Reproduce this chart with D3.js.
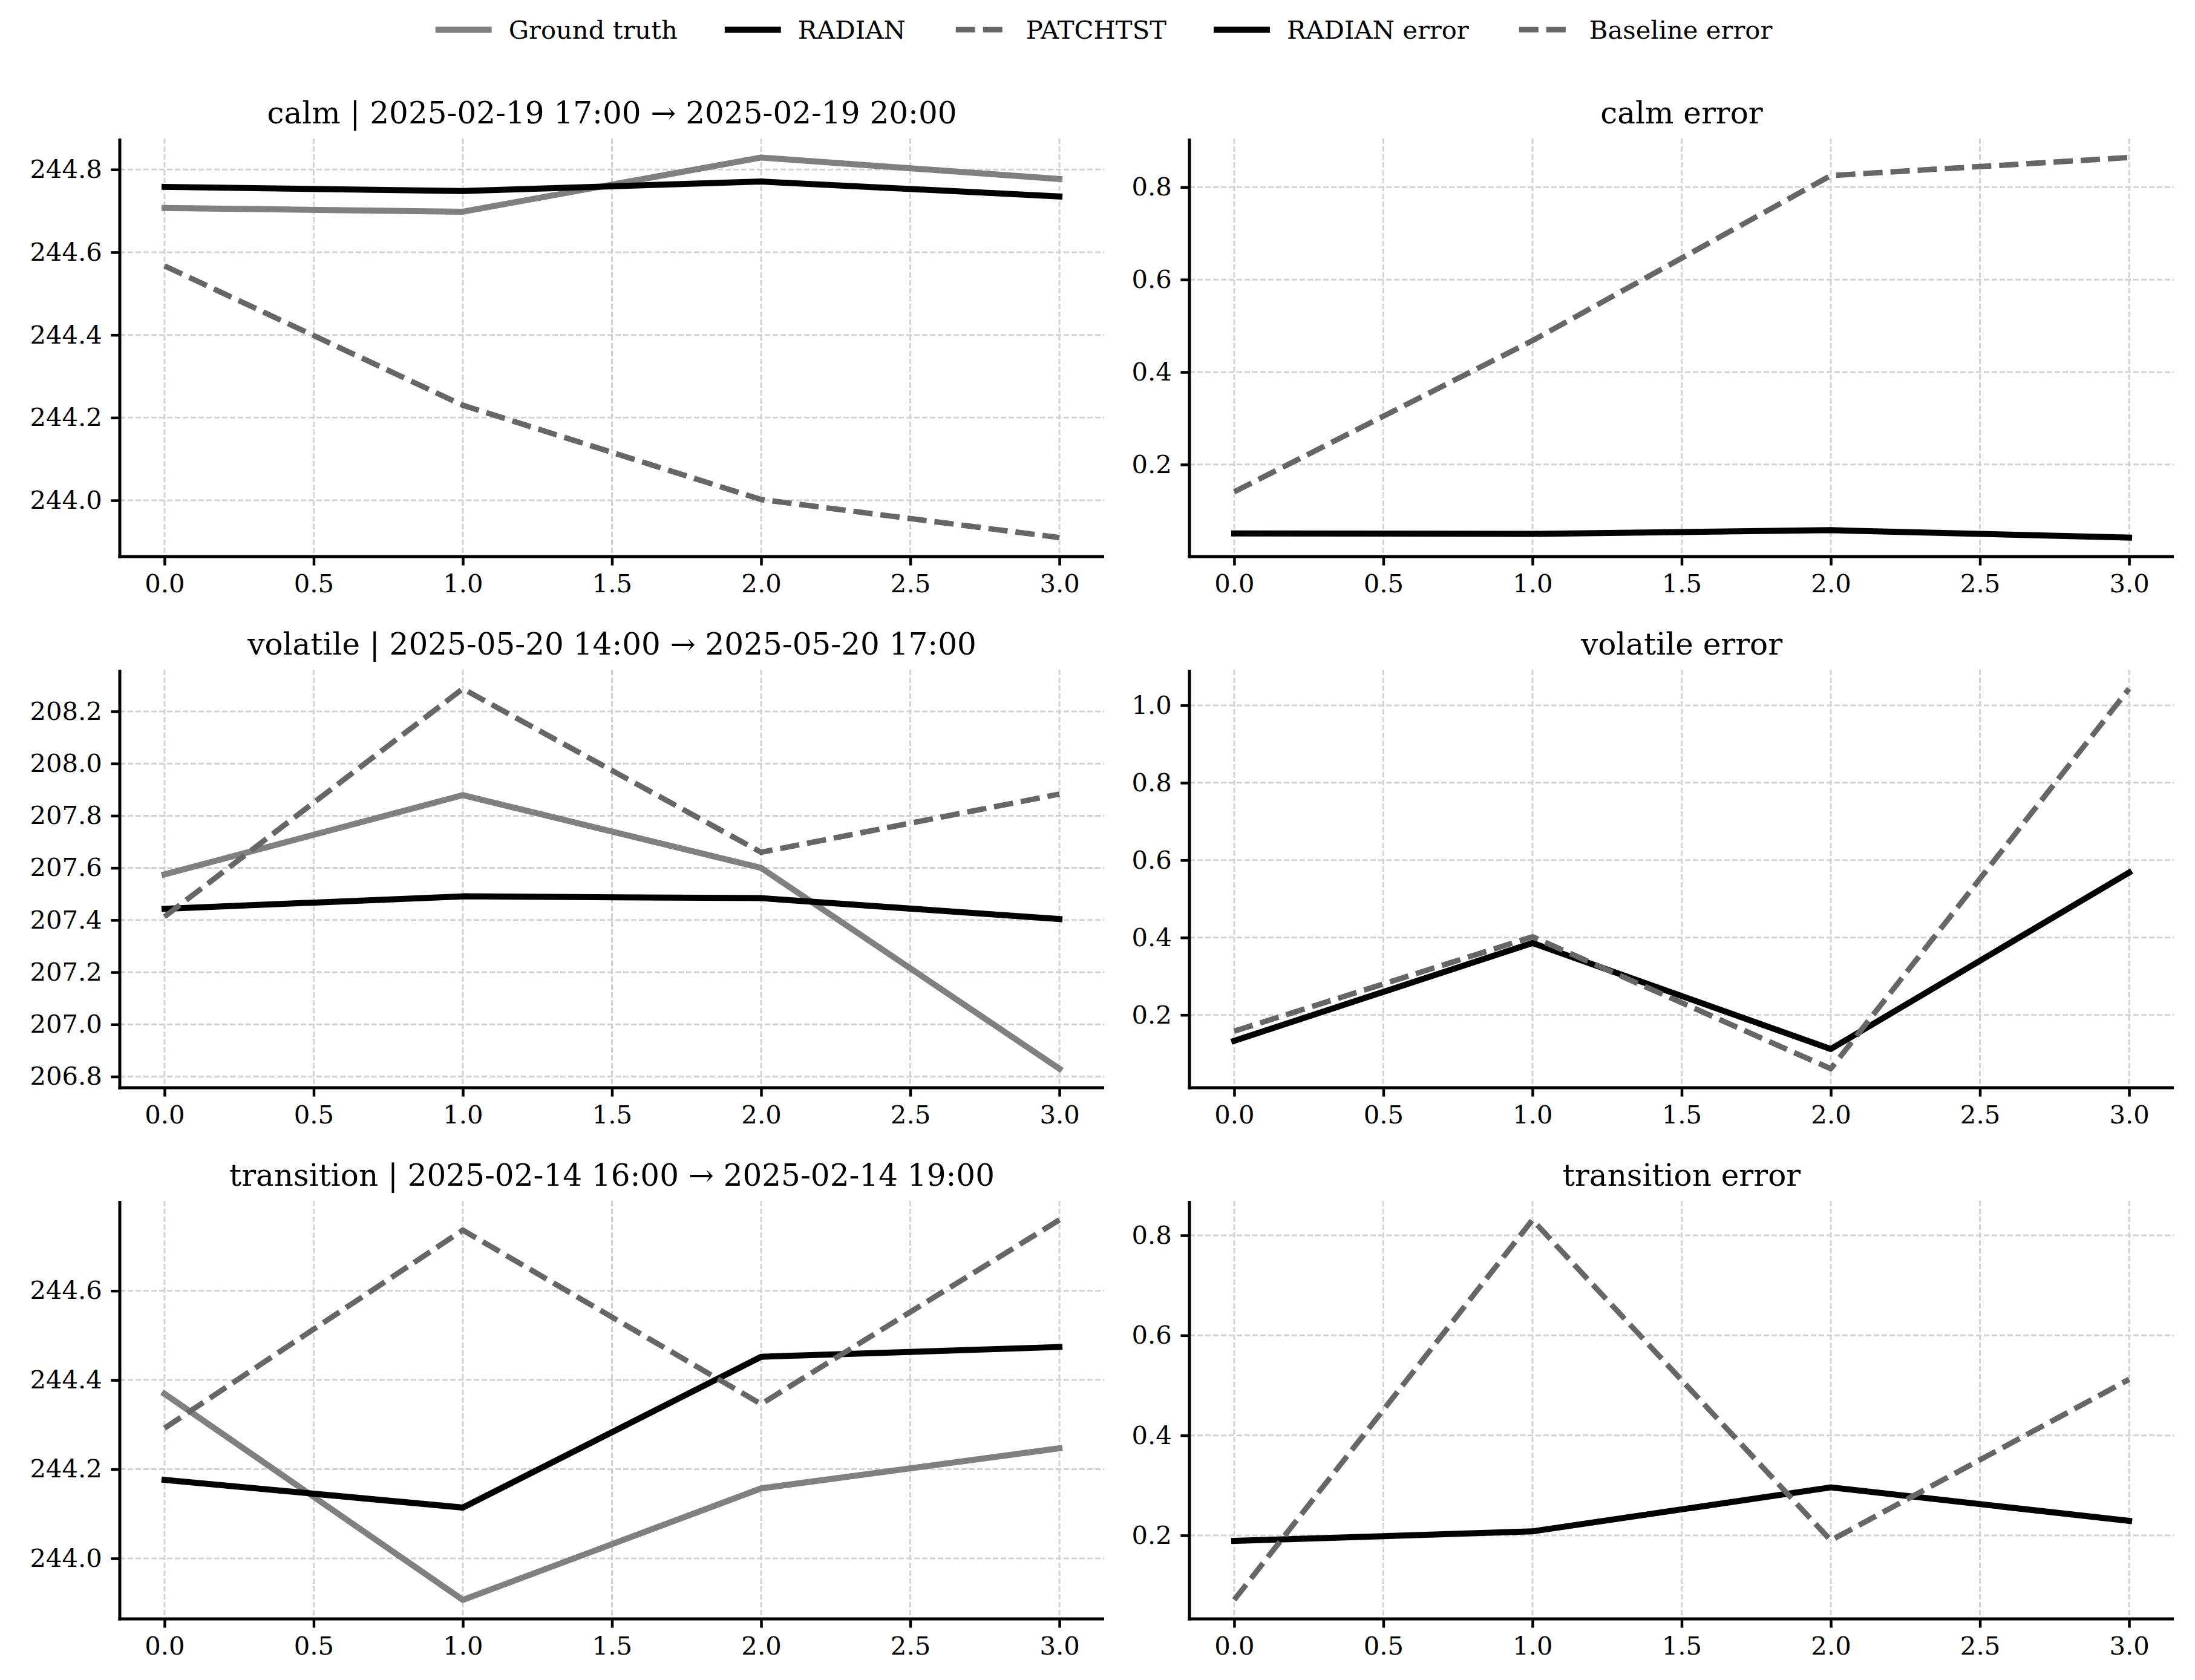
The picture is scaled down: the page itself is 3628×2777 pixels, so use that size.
<!DOCTYPE html>
<html><head><meta charset="utf-8">
<script src="https://cdn.jsdelivr.net/npm/d3@7"></script>
<style>body{margin:0;background:#fff} svg{display:block} text{font-family:"DejaVu Serif",serif;fill:#000}</style>
</head><body><svg id="c" width="3628" height="2777"></svg>
<script>
// ---------- data ----------
const steps = [0, 1, 2, 3];
const xTicks = [0, 0.5, 1, 1.5, 2, 2.5, 3];
const regimes = ["calm", "volatile", "transition"];
const windows = [
  "2025-02-19 17:00 \u2192 2025-02-19 20:00",
  "2025-05-20 14:00 \u2192 2025-05-20 17:00",
  "2025-02-14 16:00 \u2192 2025-02-14 19:00"
];
const legendLabels = ["Ground truth", "RADIAN", "PATCHTST", "RADIAN error", "Baseline error"];

const calmTruth  = [244.707, 244.698, 244.829, 244.777];
const calmRadian = [244.758, 244.748, 244.771, 244.735];
const calmPatch  = [244.567, 244.230, 244.002, 243.910];
const calmRadianErr   = [0.051, 0.050, 0.058, 0.042];
const calmBaselineErr = [0.141, 0.468, 0.825, 0.864];

const volTruth  = [207.575, 207.879, 207.600, 206.830];
const volRadian = [207.443, 207.491, 207.484, 207.404];
const volPatch  = [207.413, 208.287, 207.660, 207.883];
const volRadianErr   = [0.133, 0.386, 0.112, 0.568];
const volBaselineErr = [0.158, 0.402, 0.061, 1.043];

const trTruth  = [244.369, 243.907, 244.157, 244.247];
const trRadian = [244.176, 244.114, 244.452, 244.474];
const trPatch  = [244.292, 244.736, 244.346, 244.759];
const trRadianErr   = [0.189, 0.208, 0.296, 0.229];
const trBaselineErr = [0.071, 0.831, 0.190, 0.512];

const calmTicks = [244.0, 244.2, 244.4, 244.6, 244.8];
const calmErrTicks = [0.2, 0.4, 0.6, 0.8];
const volTicks = [206.8, 207.0, 207.2, 207.4, 207.6, 207.8, 208.0, 208.2];
const volErrTicks = [0.2, 0.4, 0.6, 0.8, 1.0];
const trTicks = [244.0, 244.2, 244.4, 244.6];
const trErrTicks = [0.2, 0.4, 0.6, 0.8];

// ---------- styles ----------
const S = {
  truth:  {color: "#808080", width: 10, dash: null},
  radian: {color: "#000000", width: 10, dash: null},
  patch:  {color: "#666666", width: 9, dash: "32,13"},
  rerr:   {color: "#000000", width: 10, dash: null},
  berr:   {color: "#666666", width: 9, dash: "32,13"}
};

const panels = [
  {row:0,col:0,title:`${regimes[0]} | ${windows[0]}`, ticks:calmTicks, series:[[calmTruth,S.truth],[calmRadian,S.radian],[calmPatch,S.patch]]},
  {row:0,col:1,title:`${regimes[0]} error`, ticks:calmErrTicks, series:[[calmRadianErr,S.rerr],[calmBaselineErr,S.berr]]},
  {row:1,col:0,title:`${regimes[1]} | ${windows[1]}`, ticks:volTicks, series:[[volTruth,S.truth],[volRadian,S.radian],[volPatch,S.patch]]},
  {row:1,col:1,title:`${regimes[1]} error`, ticks:volErrTicks, series:[[volRadianErr,S.rerr],[volBaselineErr,S.berr]]},
  {row:2,col:0,title:`${regimes[2]} | ${windows[2]}`, ticks:trTicks, series:[[trTruth,S.truth],[trRadian,S.radian],[trPatch,S.patch]]},
  {row:2,col:1,title:`${regimes[2]} error`, ticks:trErrTicks, series:[[trRadianErr,S.rerr],[trBaselineErr,S.berr]]}
];

// ---------- layout ----------
const svg = d3.select("#c");
const colLeft = [198, 1966], axW = 1627;
const rowTop = [229, 1107, 1985], axH = 691;
const tickFS = 41.7, titleFS = 50;

panels.forEach(p => {
  const x0 = colLeft[p.col], y0 = rowTop[p.row];
  const g = svg.append("g").attr("transform", `translate(${x0},${y0})`);
  const x = d3.scaleLinear().domain([-0.15, 3.15]).range([0, axW]);
  const all = p.series.flatMap(s => s[0]);
  const mn = d3.min(all), mx = d3.max(all), pad = (mx - mn) * 0.05;
  const y = d3.scaleLinear().domain([mn - pad, mx + pad]).range([axH, 0]);

  // grid
  const grid = g.append("g");
  xTicks.forEach(t => grid.append("line").attr("x1", x(t)).attr("x2", x(t)).attr("y1", 0).attr("y2", axH)
    .attr("stroke", "#d3d3d3").attr("stroke-width", 3).attr("stroke-dasharray", "9,4"));
  p.ticks.forEach(t => grid.append("line").attr("x1", 0).attr("x2", axW).attr("y1", y(t)).attr("y2", y(t))
    .attr("stroke", "#d3d3d3").attr("stroke-width", 3).attr("stroke-dasharray", "9,4"));

  // series
  const line = d3.line().x((d, i) => x(steps[i])).y(d => y(d));
  p.series.forEach(([vals, st]) => {
    g.append("path").attr("d", line(vals)).attr("fill", "none")
      .attr("stroke", st.color).attr("stroke-width", st.width)
      .attr("stroke-linejoin", "round")
      .attr("stroke-linecap", st.dash ? "butt" : "square")
      .attr("stroke-dasharray", st.dash);
  });

  // axes
  const xa = g.append("g").attr("transform", `translate(0,${axH})`)
    .call(d3.axisBottom(x).tickValues(xTicks).tickFormat(d3.format(".1f")).tickSize(14.6).tickPadding(14.6));
  const ya = g.append("g")
    .call(d3.axisLeft(y).tickValues(p.ticks).tickFormat(d3.format(".1f")).tickSize(14.6).tickPadding(14.6));
  [xa, ya].forEach(a => {
    a.select(".domain").remove();
    a.selectAll(".tick line").attr("stroke", "#000").attr("stroke-width", 4.5);
    a.selectAll(".tick text").style("font-family", '"DejaVu Serif", serif').attr("font-size", tickFS).attr("fill", "#000");
  });
  g.append("line").attr("x1", 0).attr("x2", 0).attr("y1", 0).attr("y2", axH + 2.5).attr("stroke", "#000").attr("stroke-width", 5);
  g.append("line").attr("x1", -2.5).attr("x2", axW).attr("y1", axH).attr("y2", axH).attr("stroke", "#000").attr("stroke-width", 5);

  // title
  g.append("text").attr("x", axW / 2).attr("y", -25).attr("text-anchor", "middle")
    .attr("font-size", titleFS).text(p.title);
});

// ---------- legend ----------
const legStyles = [S.truth, S.radian, S.patch, S.rerr, S.berr];
const lg = svg.append("g");
const handleLen = 83, textPad = 33, colSpace = 83, legFS = 41.7, legY = 49;
let cx = 0;
const items = legendLabels.map((lab, i) => {
  const it = lg.append("g");
  const st = legStyles[i];
  it.append("line").attr("x1", 0).attr("x2", handleLen).attr("y1", legY).attr("y2", legY)
    .attr("stroke", st.color).attr("stroke-width", st.width)
    .attr("stroke-linecap", st.dash ? "butt" : "square").attr("stroke-dasharray", st.dash);
  const t = it.append("text").attr("x", handleLen + textPad).attr("y", legY).attr("dy", "0.36em")
    .attr("font-size", legFS).text(lab);
  const w = t.node().getComputedTextLength();
  it.attr("transform", `translate(${cx},0)`);
  cx += handleLen + textPad + w + colSpace;
  return it;
});
const total = cx - colSpace;
lg.attr("transform", `translate(${1827 - total / 2},0)`);
</script></body></html>
